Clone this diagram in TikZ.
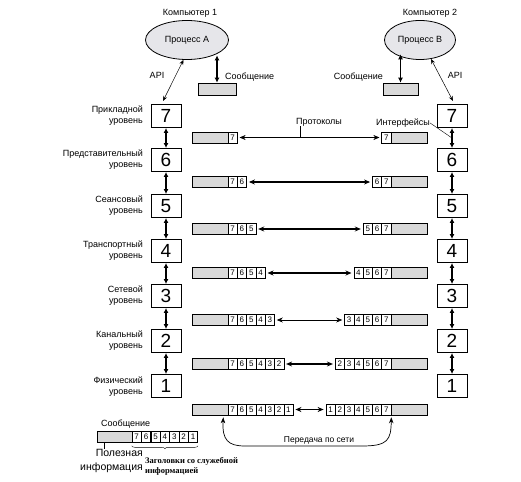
\documentclass[tikz,border=0pt]{standalone}
\usepackage{fontspec}
\setmainfont{Liberation Sans}
\newfontfamily\serifb{Liberation Serif}
\usetikzlibrary{arrows.meta,decorations.pathreplacing,shapes.geometric,calc}
\definecolor{barg}{RGB}{217,217,217}
\definecolor{procg}{RGB}{230,230,234}
\newcommand{\lbar}[3]{%
  \node[gbar] (#1g) at (210,#2) {};
  \foreach \d [count=\i] in {#3} {\node[cell] (#1c\i) at ({228+9.3*(\i-0.5)},#2) {\d};}
}
\newcommand{\rbar}[4]{%
  \node[gbar] (#1g) at (409,#2) {};
  \foreach \d [count=\i] in {#4} {\node[cell] (#1c\i) at ({391-9.3*(#3-\i+0.5)},#2) {\d};}
}
\begin{document}
\begin{tikzpicture}[x=1pt,y=-1pt,
  lvl/.style={draw, line width=0.9pt, minimum width=30pt, minimum height=23pt, inner sep=0pt, font=\fontsize{19}{19}\selectfont},
  lbl/.style={align=right, anchor=east, font=\fontsize{9}{11}\selectfont, inner sep=0pt},
  txt/.style={font=\fontsize{9}{11}\selectfont, inner sep=0pt},
  gbar/.style={draw, fill=barg, minimum width=36pt, minimum height=11pt, inner sep=0pt, line width=0.6pt},
  cell/.style={draw, fill=white, minimum width=9.3pt, minimum height=11pt, inner sep=0pt, font=\fontsize{8}{8}\selectfont, line width=0.6pt},
  vlink/.style={{Latex[length=5pt,width=5pt]}-{Latex[length=5pt,width=5pt]}, line width=1.3pt},
  hlink/.style={{Stealth[length=6pt,width=5pt]}-{Stealth[length=6pt,width=5pt]}, shorten <=2pt, shorten >=2pt},
  thinlink/.style={{Stealth[length=5pt,width=4pt]}-{Stealth[length=5pt,width=4pt]}, line width=0.5pt},
  proc/.style={ellipse, draw, fill=procg, line width=0.8pt, inner sep=0pt, font=\fontsize{9}{11}\selectfont},
  msg/.style={draw, fill=barg, line width=0.6pt, minimum height=12pt, inner sep=0pt}
]
\useasboundingbox (0,0) rectangle (521,481);

% top
\node[txt] (compA) at (190,13) {Компьютер 1};
\node[txt] (compB) at (430,13) {Компьютер 2};
\node[proc, minimum width=83pt, minimum height=39pt] (PA) at (187,40) {Процесс А};
\node[proc, minimum width=71pt, minimum height=39pt] (PB) at (420,40) {Процесс В};
\node[msg, minimum width=38pt] (MA) at (217,89) {};
\node[msg, minimum width=35pt] (MB) at (400.5,89) {};
\draw[vlink, line width=1.5pt] (MA.north) -- (MA.north |- PA.-30);
\draw[vlink, line width=1.5pt] (MB.north) -- (MB.north |- PB.-150);
\node[txt, anchor=west] (msgtA) at (225,77) {Сообщение};
\node[txt, anchor=east] (msgtB) at (383,77) {Сообщение};
\coordinate (apiA) at (163,101);
\coordinate (apiB) at (453,101);
\draw[thinlink] (PA.-100) -- (apiA);
\draw[thinlink] (PB.-60) -- (apiB);
\node[txt] (apiAt) at (157,75) {API};
\node[txt] (apiBt) at (455,75) {API};

% level boxes
\foreach \n/\y in {7/116,6/160,5/206,4/251,3/296,2/341,1/386} {
  \node[lvl] (L\n) at (166,\y) {\n};
  \node[lvl] (R\n) at (452,\y) {\n};
}
\foreach \a/\b in {7/6,6/5,5/4,4/3,3/2,2/1} {
  \draw[vlink] (L\a.south) -- (L\b.north);
  \draw[vlink] (R\a.south) -- (R\b.north);
}
\node[lbl] (t7) at (143,116) {Прикладной\\уровень};
\node[lbl] (t6) at (143,160) {Представительный\\уровень};
\node[lbl] (t5) at (143,206) {Сеансовый\\уровень};
\node[lbl] (t4) at (143,251) {Транспортный\\уровень};
\node[lbl] (t3) at (143,296) {Сетевой\\уровень};
\node[lbl] (t2) at (143,341) {Канальный\\уровень};
\node[lbl] (t1) at (143,387) {Физический\\уровень};

% bars
\lbar{l7}{137.5}{7}
\rbar{r7}{137.5}{1}{7}
\lbar{l6}{182}{7,6}
\rbar{r6}{182}{2}{6,7}
\lbar{l5}{229}{7,6,5}
\rbar{r5}{229}{3}{5,6,7}
\lbar{l4}{273}{7,6,5,4}
\rbar{r4}{273}{4}{4,5,6,7}
\lbar{l3}{320}{7,6,5,4,3}
\rbar{r3}{320}{5}{3,4,5,6,7}
\lbar{l2}{364}{7,6,5,4,3,2}
\rbar{r2}{364}{6}{2,3,4,5,6,7}
\lbar{l1}{409.5}{7,6,5,4,3,2,1}
\rbar{r1}{409.5}{7}{1,2,3,4,5,6,7}

\draw[hlink, line width=0.5pt] (l7c1.east) -- (r7c1.west);
\draw[hlink, line width=1.8pt] (l6c2.east) -- (r6c1.west);
\draw[hlink, line width=1.1pt] (l5c3.east) -- (r5c1.west);
\draw[hlink, line width=1.3pt] (l4c4.east) -- (r4c1.west);
\draw[hlink, line width=0.6pt] (l3c5.east) -- (r3c1.west);
\draw[hlink, line width=1.1pt] (l2c6.east) -- (r2c1.west);
\draw[hlink, line width=1.1pt] (l1c7.east) -- (r1c1.west);

% protocol / interface labels
\node[txt] (prot) at (319,122) {Протоколы};
\draw[line width=0.5pt] ([xshift=4pt]prot.south west) -- ([xshift=4pt]prot.south west |- l7c1.center);
\node[txt] (intf) at (403,123) {Интерфейсы};
\draw[line width=0.4pt] (intf.east) -- ($(R7.south)!0.5!(R6.north)$);

% transfer curve
\draw[{Stealth[length=6pt,width=4.5pt]}-{Stealth[length=6pt,width=4.5pt]}, line width=0.7pt]
  ([xshift=-5pt,yshift=-2pt]l1g.south east) .. controls (222,440) and (228,446) .. (245,446)
  -- (362,446) .. controls (388,446) and (391,440) .. ([yshift=-2pt]r1c7.south east);
\node[font=\fontsize{8.5}{10}\selectfont, inner sep=0pt] (net) at (319,440) {Передача по сети};

% bottom-left message
\node[txt, anchor=west] (bmsg) at (101,424) {Сообщение};
\node[msg, minimum width=35pt, minimum height=11pt] (BMg) at (114.5,437) {};
\foreach \d [count=\i] in {7,6,5,4,3,2,1} {\node[cell] (BMc\i) at ({132+9.4*(\i-0.5)},437) {\d};}
\draw[decorate, decoration={brace, mirror, amplitude=3pt}, line width=0.4pt]
  ([yshift=-3pt]BMc1.south west) -- ([yshift=-3pt]BMc7.south east);
\node[align=right, anchor=north east, inner sep=0pt, font=\fontsize{10.5}{14}\selectfont] (pol) at (143,449) {Полезная\\информация};
\draw[line width=0.6pt] ([xshift=-10.5pt]BMg.south) -- ([xshift=-10.5pt]BMg.south |- pol.north);
\node[align=left, anchor=north west, inner sep=0pt, font=\serifb\bfseries\fontsize{8.5}{10.5}\selectfont] (hdr) at (145,457) {Заголовки со служебной\\информацией};
\end{tikzpicture}
\end{document}
